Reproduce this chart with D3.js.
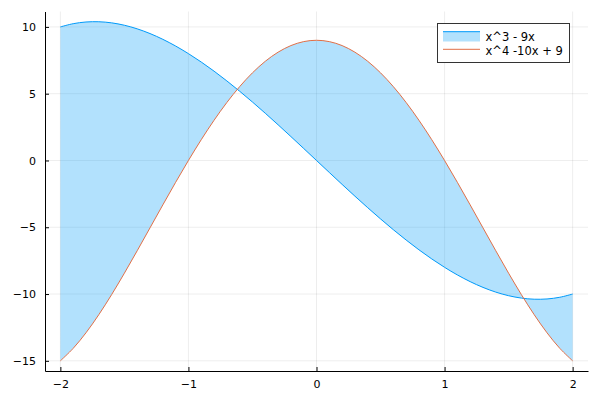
<!DOCTYPE html>
<html><head><meta charset="utf-8">
<script src="https://cdn.jsdelivr.net/npm/d3@7"></script>
<style>body{margin:0;background:#fff}svg{display:block}text{font-family:"DejaVu Sans",sans-serif}</style>
</head><body>
<svg id="c" width="600" height="400"></svg>
<script>
const xs = [-2,-1.9,-1.8,-1.7,-1.6,-1.5,-1.4,-1.3,-1.2,-1.1,-1,-0.9,-0.8,-0.7,-0.6,-0.5,-0.4,-0.3,-0.2,-0.1,0,
  0.1,0.2,0.3,0.4,0.5,0.6,0.7,0.8,0.9,1,1.1,1.2,1.3,1.4,1.5,1.6,1.7,1.8,1.9,2];
const cubicVals = [10,10.241,10.368,10.387,10.304,10.125,9.856,9.503,9.072,8.569,8,7.371,6.688,5.957,5.184,4.375,3.536,2.673,1.792,0.899,0,
  -0.899,-1.792,-2.673,-3.536,-4.375,-5.184,-5.957,-6.688,-7.371,-8,-8.569,-9.072,-9.503,-9.856,-10.125,-10.304,-10.387,-10.368,-10.241,-10];
const quarticVals = [-15,-14.068,-12.902,-11.548,-10.046,-8.438,-6.758,-5.044,-3.326,-1.636,0,1.556,3.010,4.340,5.530,6.563,7.426,8.108,8.602,8.900,9,
  8.900,8.602,8.108,7.426,6.563,5.530,4.340,3.010,1.556,0,-1.636,-3.326,-5.044,-6.758,-8.438,-10.046,-11.548,-12.902,-14.068,-15];
const seriesNames = ["x^3 - 9x","x^4 -10x + 9"];
const xTicks = [-2,-1,0,1,2];
const yTicks = [-15,-10,-5,0,5,10];

const svg = d3.select("#c");
const L=45, R=588, T=11.5, B=371;
const x = d3.scaleLinear().domain([-2.12,2.12]).range([L,R]);
const y = d3.scaleLinear().domain([-15.762,11.154]).range([B,T]);
const fmt = v => v<0 ? "\u2212"+Math.abs(v) : String(v);

// grid
const g = svg.append("g");
g.selectAll(".gx").data(xTicks).enter().append("line")
  .attr("x1",d=>x(d)).attr("x2",d=>x(d)).attr("y1",T).attr("y2",B)
  .attr("stroke","#000").attr("stroke-opacity",0.1).attr("stroke-width",0.7);
g.selectAll(".gy").data(yTicks).enter().append("line")
  .attr("x1",L).attr("x2",R).attr("y1",d=>y(d)).attr("y2",d=>y(d))
  .attr("stroke","#000").attr("stroke-opacity",0.1).attr("stroke-width",0.7);

const data = xs.map((v,i)=>({x:v,a:cubicVals[i],b:quarticVals[i]}));
const curve = d3.curveCatmullRom.alpha(0.5);
svg.append("path").datum(data)
  .attr("d", d3.area().x(d=>x(d.x)).y0(d=>y(d.b)).y1(d=>y(d.a)).curve(curve))
  .attr("fill","#009AFA").attr("fill-opacity",0.3);
svg.append("path").datum(data)
  .attr("d", d3.line().x(d=>x(d.x)).y(d=>y(d.a)).curve(curve))
  .attr("fill","none").attr("stroke","#009AFA").attr("stroke-width",1);
svg.append("path").datum(data)
  .attr("d", d3.line().x(d=>x(d.x)).y(d=>y(d.b)).curve(curve))
  .attr("fill","none").attr("stroke","#E26F46").attr("stroke-width",1);

// axes
const xa = svg.append("g").attr("transform",`translate(0,${B})`)
  .call(d3.axisBottom(x).tickValues(xTicks).tickFormat(fmt).tickSizeInner(-4).tickSizeOuter(0).tickPadding(9));
const ya = svg.append("g").attr("transform",`translate(${L},0)`)
  .call(d3.axisLeft(y).tickValues(yTicks).tickFormat(fmt).tickSizeInner(-4).tickSizeOuter(0).tickPadding(9));
[xa,ya].forEach(a=>{
  a.select(".domain").attr("stroke","#000").attr("stroke-width",1);
  a.selectAll(".tick line").attr("stroke","#000").attr("stroke-width",1);
  a.selectAll("text").attr("font-size",11).attr("fill","#000").attr("font-family","DejaVu Sans, sans-serif");
});

// legend
const lg = svg.append("g");
lg.append("rect").attr("x",437.5).attr("y",23.5).attr("width",132).attr("height",39)
  .attr("fill","#fff").attr("stroke","#333").attr("stroke-width",1);
lg.append("rect").attr("x",443).attr("y",31.5).attr("width",37).attr("height",10)
  .attr("fill","#009AFA").attr("fill-opacity",0.3);
lg.append("line").attr("x1",443).attr("x2",480).attr("y1",31.7).attr("y2",31.7)
  .attr("stroke","#009AFA").attr("stroke-width",1);
lg.append("line").attr("x1",443).attr("x2",480).attr("y1",49.3).attr("y2",49.3)
  .attr("stroke","#E26F46").attr("stroke-width",1);
lg.selectAll(".lt").data(seriesNames).enter().append("text")
  .attr("x",485.5).attr("y",(d,i)=>36.5+i*14).attr("dy","0.35em")
  .attr("font-size",11.5).attr("fill","#000").text(d=>d);
</script>
</body></html>
